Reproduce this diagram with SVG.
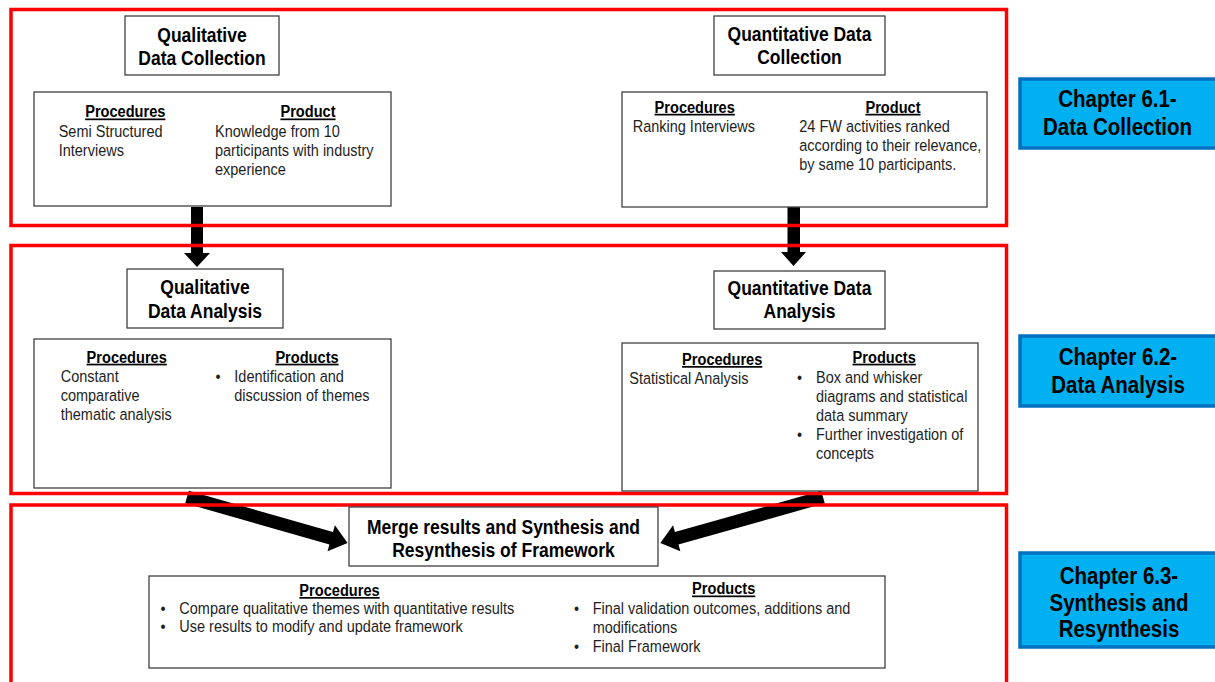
<svg xmlns="http://www.w3.org/2000/svg" width="1215" height="682" viewBox="0 0 1215 682">
  <style>
    .bg { fill: #ffffff; }
    .frame { fill: none; stroke: #ff0000; stroke-width: 3.5; }
    .box { fill: #ffffff; stroke: #404040; stroke-width: 1.3; }
    .chap { fill: #00b0f0; stroke: #0070c0; stroke-width: 3.5; }
    text { font-family: "Liberation Sans", Arial, sans-serif; transform-box: fill-box; transform-origin: 50% 50%; transform: scaleY(1.18); }
    .title { font-weight: bold; font-size: 17.5px; fill: #000; text-anchor: middle; }
    .chapt { font-weight: bold; font-size: 20.5px; fill: #000; text-anchor: middle; }
    .head { font-weight: bold; font-size: 14.6px; fill: #000; text-anchor: middle; text-decoration: underline; }
    .body { font-size: 14.5px; fill: #1e1e1e; }
    .arrow { fill: #000; }
  </style>

  <rect class="bg" x="0" y="0" width="1215" height="682"/>

  <!-- connectors: thick block arrows, drawn beneath the section frames -->
  <g id="connectors">
    <polygon class="arrow" points="191,207 203,207 203,253 210,253 197,267 184,253 191,253"/>
    <polygon class="arrow" points="787.5,207 800,207 800,252 806,252 793.5,266 781,252 787.5,252"/>
    <polygon class="arrow" transform="translate(187,497) rotate(15.95)" points="0,-6.5 150,-6.5 150,-13.5 167,0 150,13.5 150,6.5 0,6.5"/>
    <polygon class="arrow" transform="translate(823,497) rotate(164.24)" points="0,-6.5 152,-6.5 152,-13.5 169,0 152,13.5 152,6.5 0,6.5"/>
  </g>

  <!-- section frames -->
  <g id="frames">
    <rect class="frame" x="11" y="9.5" width="995.5" height="216"/>
    <rect class="frame" x="11" y="245.5" width="995.5" height="248"/>
    <rect class="frame" x="11" y="505" width="995.5" height="200"/>
  </g>

  <!-- 6.1 data collection -->
  <g id="qual-collection">
    <rect class="box" x="125" y="16" width="154" height="59"/>
    <text class="title" x="202" y="40.5">Qualitative</text>
    <text class="title" x="202" y="64">Data Collection</text>
  </g>
  <g id="qual-collection-detail">
    <rect class="box" x="34" y="92" width="357" height="114"/>
    <text class="head" x="125.3" y="116.5">Procedures</text>
    <text class="head" x="308" y="116.5">Product</text>
    <text class="body" x="58.7" y="136.5">Semi Structured</text>
    <text class="body" x="58.7" y="155.5">Interviews</text>
    <text class="body" x="215" y="136.5">Knowledge from 10</text>
    <text class="body" x="215" y="155.5">participants with industry</text>
    <text class="body" x="215" y="174.5">experience</text>
  </g>

  <g id="quant-collection">
    <rect class="box" x="714" y="16" width="171" height="59"/>
    <text class="title" x="799.5" y="39.5">Quantitative Data</text>
    <text class="title" x="799.5" y="62.8">Collection</text>
  </g>
  <g id="quant-collection-detail">
    <rect class="box" x="622" y="92" width="365" height="115"/>
    <text class="head" x="694.7" y="111.8">Procedures</text>
    <text class="head" x="893" y="111.8">Product</text>
    <text class="body" x="632.7" y="131.5">Ranking Interviews</text>
    <text class="body" x="799.3" y="131.5">24 FW activities ranked</text>
    <text class="body" x="799.3" y="150.5">according to their relevance,</text>
    <text class="body" x="799.3" y="169.5">by same 10 participants.</text>
  </g>

  <!-- 6.2 data analysis -->
  <g id="qual-analysis">
    <rect class="box" x="127" y="269" width="156" height="59"/>
    <text class="title" x="205" y="293.3">Qualitative</text>
    <text class="title" x="205" y="316.7">Data Analysis</text>
  </g>
  <g id="qual-analysis-detail">
    <rect class="box" x="34" y="339" width="357" height="149"/>
    <text class="head" x="126.7" y="361.7">Procedures</text>
    <text class="head" x="307" y="361.7">Products</text>
    <text class="body" x="60.7" y="380.7">Constant</text>
    <text class="body" x="60.7" y="400">comparative</text>
    <text class="body" x="60.7" y="419.3">thematic analysis</text>
    <text class="body" x="215.5" y="380.7">•</text>
    <text class="body" x="234.3" y="380.7">Identification and</text>
    <text class="body" x="234.3" y="400">discussion of themes</text>
  </g>

  <g id="quant-analysis">
    <rect class="box" x="714" y="271" width="171" height="58"/>
    <text class="title" x="799.5" y="294">Quantitative Data</text>
    <text class="title" x="799.5" y="317.3">Analysis</text>
  </g>
  <g id="quant-analysis-detail">
    <rect class="box" x="622" y="343" width="356" height="148"/>
    <text class="head" x="722.2" y="364">Procedures</text>
    <text class="head" x="884.2" y="361.7">Products</text>
    <text class="body" x="629.3" y="383.3">Statistical Analysis</text>
    <text class="body" x="797" y="381.7">•</text>
    <text class="body" x="816" y="381.7">Box and whisker</text>
    <text class="body" x="816" y="400.7">diagrams and statistical</text>
    <text class="body" x="816" y="420">data summary</text>
    <text class="body" x="797" y="439">•</text>
    <text class="body" x="816" y="439">Further investigation of</text>
    <text class="body" x="816" y="458.3">concepts</text>
  </g>

  <!-- 6.3 synthesis -->
  <g id="merge">
    <rect class="box" x="349" y="507" width="309" height="59"/>
    <text class="title" x="503.5" y="532.5">Merge results and Synthesis and</text>
    <text class="title" x="503.5" y="555.5">Resynthesis of Framework</text>
  </g>
  <g id="merge-detail">
    <rect class="box" x="149" y="576" width="736" height="92"/>
    <text class="head" x="339.5" y="595">Procedures</text>
    <text class="head" x="723.7" y="593.5">Products</text>
    <text class="body" x="160.5" y="613.3">•</text>
    <text class="body" x="179.3" y="613.3">Compare qualitative themes with quantitative results</text>
    <text class="body" x="160.5" y="631.5">•</text>
    <text class="body" x="179.3" y="631.5">Use results to modify and update framework</text>
    <text class="body" x="574" y="613.3">•</text>
    <text class="body" x="592.7" y="613.3">Final validation outcomes, additions and</text>
    <text class="body" x="592.7" y="631.7">modifications</text>
    <text class="body" x="574" y="651">•</text>
    <text class="body" x="592.7" y="651">Final Framework</text>
  </g>

  <!-- chapter labels -->
  <g id="chapter-6-1">
    <rect class="chap" x="1020" y="79" width="200" height="69"/>
    <text class="chapt" x="1117.5" y="105.5">Chapter 6.1-</text>
    <text class="chapt" x="1117.5" y="133.5">Data Collection</text>
  </g>
  <g id="chapter-6-2">
    <rect class="chap" x="1020" y="336" width="200" height="70"/>
    <text class="chapt" x="1118" y="363.5">Chapter 6.2-</text>
    <text class="chapt" x="1118" y="391.7">Data Analysis</text>
  </g>
  <g id="chapter-6-3">
    <rect class="chap" x="1020" y="553" width="200" height="94"/>
    <text class="chapt" x="1119" y="582.7">Chapter 6.3-</text>
    <text class="chapt" x="1119" y="609.3">Synthesis and</text>
    <text class="chapt" x="1119" y="636">Resynthesis</text>
  </g>
</svg>
